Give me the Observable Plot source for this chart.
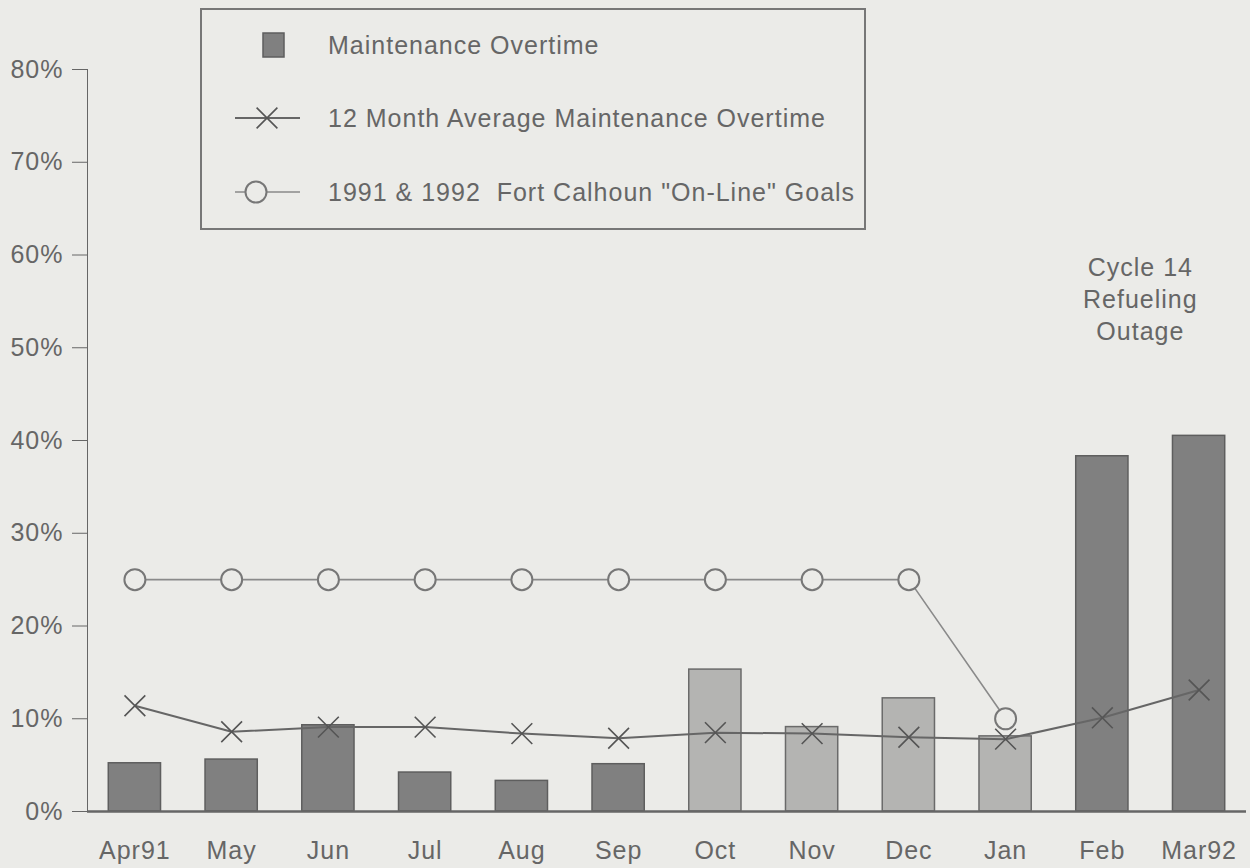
<!DOCTYPE html>
<html><head><meta charset="utf-8">
<script src="https://cdn.jsdelivr.net/npm/d3@7"></script>
<script src="https://cdn.jsdelivr.net/npm/@observablehq/plot@0.6"></script>
<style>
html,body{margin:0;padding:0;background:#ebebe8;}
#wrap{position:relative;width:1250px;height:868px;}
#legend{position:absolute;left:200px;top:8px;}
text{font-family:"Liberation Sans",Arial,sans-serif;letter-spacing:1px;}
</style></head>
<body><div id="wrap"><div id="chart"></div><div id="legend"></div></div>
<script>
const months = ["Apr91","May","Jun","Jul","Aug","Sep","Oct","Nov","Dec","Jan","Feb","Mar92"];
const overtime = [5.2,5.6,9.3,4.2,3.3,5.1,15.3,9.1,12.2,8.1,38.3,40.5];
const avg12 = [11.4,8.6,9.1,9.1,8.4,7.9,8.5,8.4,8.0,7.8,10.1,13.1];
const goals = [25,25,25,25,25,25,25,25,25,10,null,null];
const yTicks = [0,10,20,30,40,50,60,70,80];
const seriesNames = ["Maintenance Overtime","12 Month Average Maintenance Overtime","1991 & 1992  Fort Calhoun \"On-Line\" Goals"];
const noteLines = ["Cycle 14","Refueling","Outage"];
const noteMonth = "Feb";
const noteY = 55.4;

const rows = months.map((m,i)=>({month:m, overtime:overtime[i], avg:avg12[i], goal:goals[i]}));
const lightSet = new Set(["Oct","Nov","Dec","Jan"]);
const BG = "#ebebe8";
const INK = "#5e5e5e";

const chart = Plot.plot({
  width:1250, height:868,
  marginLeft:87, marginRight:4, marginTop:69, marginBottom:57,
  style:{background:BG, color:"#666", fontFamily:"'Liberation Sans',Arial,sans-serif", fontSize:"25px", letterSpacing:"1px"},
  x:{domain:months, paddingInner:0.46, paddingOuter:0.22, round:false, tickSize:0, tickPadding:30, label:null},
  y:{domain:[0,80], ticks:yTicks, tickSize:15, tickPadding:9, tickFormat:d=>d+"%", label:null, line:true},
  marks:[
    Plot.barY(rows.filter(d=>!lightSet.has(d.month)), {x:"month", y:"overtime", fill:"#808080", stroke:INK, strokeWidth:1.5}),
    Plot.barY(rows.filter(d=>lightSet.has(d.month)), {x:"month", y:"overtime", fill:"#b4b4b2", stroke:"#6a6a6a", strokeWidth:1.5}),
    Plot.ruleY([0], {stroke:"#666", strokeWidth:2.5}),
    Plot.line(rows.filter(d=>d.goal!=null), {x:"month", y:"goal", stroke:"#8a8a8a", strokeWidth:1.6}),
    Plot.dot(rows.filter(d=>d.goal!=null), {x:"month", y:"goal", r:10.5, fill:BG, stroke:"#777", strokeWidth:2}),
    Plot.line(rows, {x:"month", y:"avg", stroke:"#666", strokeWidth:2}),
    Plot.dot(rows, {x:"month", y:"avg", symbol:"times", r:9.5, stroke:"#555", strokeWidth:1.6}),
    Plot.text([noteLines.join("\n")], {x:()=>noteMonth, y:()=>noteY, dx:38, text:d=>d, fill:"#666", fontSize:25, lineHeight:1.28})
  ]
});
document.getElementById("chart").appendChild(chart);

// legend
const W=666, H=222;
const lg = d3.select("#legend").append("svg").attr("width",W).attr("height",H);
lg.append("rect").attr("x",1).attr("y",1).attr("width",W-2).attr("height",H-2).attr("fill",BG).attr("stroke","#777").attr("stroke-width",2);
const rowY=[37,110,184];
lg.append("rect").attr("x",63).attr("y",rowY[0]-12).attr("width",21).attr("height",24).attr("fill","#808080").attr("stroke",INK).attr("stroke-width",1.5);
lg.append("line").attr("x1",35).attr("x2",100).attr("y1",rowY[1]).attr("y2",rowY[1]).attr("stroke","#666").attr("stroke-width",2);
const xs=d3.symbol(d3.symbolTimes, Math.PI*9.5*9.5)();
lg.append("path").attr("d",xs).attr("transform",`translate(67,${rowY[1]})`).attr("fill","none").attr("stroke","#555").attr("stroke-width",1.6);
lg.append("line").attr("x1",35).attr("x2",100).attr("y1",rowY[2]).attr("y2",rowY[2]).attr("stroke","#8a8a8a").attr("stroke-width",1.6);
lg.append("circle").attr("cx",56).attr("cy",rowY[2]).attr("r",10.5).attr("fill",BG).attr("stroke","#777").attr("stroke-width",2);
seriesNames.forEach((s,i)=>{
  lg.append("text").attr("x",128).attr("y",rowY[i]).attr("dy","0.35em").attr("fill","#666").attr("font-size",25).style("white-space","pre").text(s);
});
</script>
</body></html>
